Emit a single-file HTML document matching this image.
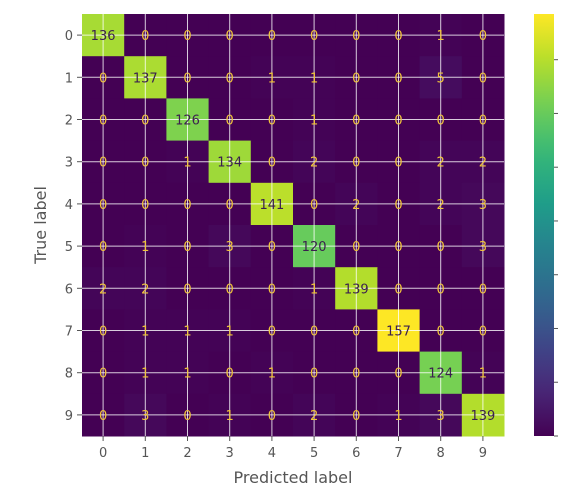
<!DOCTYPE html>
<html><head><meta charset="utf-8"><style>
body{margin:0;background:#fff;}
svg{display:block;font-family:"DejaVu Sans","Liberation Sans",sans-serif;}
</style></head><body>
<svg id="chart" width="587" height="493"></svg>
<script>
const classes=["0","1","2","3","4","5","6","7","8","9"];
const matrix=[
[136,0,0,0,0,0,0,0,1,0],
[0,137,0,0,1,1,0,0,5,0],
[0,0,126,0,0,1,0,0,0,0],
[0,0,1,134,0,2,0,0,2,2],
[0,0,0,0,141,0,2,0,2,3],
[0,1,0,3,0,120,0,0,0,3],
[2,2,0,0,0,1,139,0,0,0],
[0,1,1,1,0,0,0,157,0,0],
[0,1,1,0,1,0,0,0,124,1],
[0,3,0,1,0,2,0,1,3,139]];
const cbTicks=[0,20,40,60,80,100,120,140];

const NS="http://www.w3.org/2000/svg";
const svg=document.getElementById('chart');
function el(t,a,p){const e=document.createElementNS(NS,t);for(const k in a)e.setAttribute(k,a[k]);(p||svg).appendChild(e);return e;}
const stops=[[68,1,84],[72,40,120],[62,73,137],[49,104,142],[38,130,142],[31,158,137],[53,183,121],[110,206,88],[181,222,43],[253,231,37]];
function viridis(t){t=Math.max(0,Math.min(1,t))*9;const i=Math.min(8,Math.floor(t)),f=t-i;const a=stops[i],b=stops[i+1];return `rgb(${a.map((v,k)=>Math.round(v+(b[k]-v)*f)).join(',')})`;}
let vmax=0;matrix.forEach(r=>r.forEach(v=>vmax=Math.max(vmax,v)));
const L=82,T=14,S=42.2,N=classes.length;
const cx=i=>L+S*i, cy=i=>T+S*i;
matrix.forEach((row,r)=>row.forEach((v,c)=>{
 const e=el('rect',{x:cx(c),y:cy(r),width:S+0.5,height:S+0.5,fill:viridis(v/vmax)});
 
 
}));
// grid lines
for(let i=0;i<N;i++){
 el('line',{x1:cx(i)+S/2,x2:cx(i)+S/2,y1:T,y2:T+S*N,stroke:'#fff','stroke-opacity':0.8,'stroke-width':1});
 el('line',{y1:cy(i)+S/2,y2:cy(i)+S/2,x1:L,x2:L+S*N,stroke:'#fff','stroke-opacity':0.8,'stroke-width':1});
}
matrix.forEach((row,r)=>row.forEach((v,c)=>{
 const t=el('text',{x:cx(c)+S/2,y:cy(r)+S/2+5,'text-anchor':'middle','font-size':13,fill:v/vmax>0.5?'#3b1f4f':'#f0c53a'});
 t.textContent=v;
 
 
}));
classes.forEach((c,i)=>{
 el('line',{x1:L-5,x2:L,y1:cy(i)+S/2,y2:cy(i)+S/2,stroke:'#555'});
 const t=el('text',{x:L-9,y:cy(i)+S/2+5,'text-anchor':'end','font-size':13,fill:'#555'});t.textContent=c;
 
 el('line',{x1:cx(i)+S/2,x2:cx(i)+S/2,y1:T+S*N,y2:T+S*N+5,stroke:'#555'});
 const u=el('text',{x:cx(i)+S/2,y:T+S*N+21,'text-anchor':'middle','font-size':13,fill:'#555'});u.textContent=c;
 
});
const xt=el('text',{x:L+S*N/2,y:483,'text-anchor':'middle','font-size':16,fill:'#555'});xt.textContent='Predicted label';

const yt=el('text',{x:0,y:0,'text-anchor':'middle','font-size':16,fill:'#555',transform:`translate(46,${T+S*N/2}) rotate(-90)`});yt.textContent='True label';

// colorbar
const CBx=534,CBw=20,CBt=T,CBh=S*N;
const defs=el('defs',{});const g=el('linearGradient',{id:'vg',x1:0,y1:1,x2:0,y2:0},defs);
for(let i=0;i<=20;i++)el('stop',{offset:i/20,'stop-color':viridis(i/20)},g);
const cb=el('rect',{x:CBx,y:CBt,width:CBw,height:CBh,fill:'url(#vg)'});

cbTicks.forEach(v=>{const y=CBt+CBh*(1-v/vmax);el('line',{x1:CBx+CBw,x2:CBx+CBw+4,y1:y,y2:y,stroke:'#555'});});
</script>
</body></html>
